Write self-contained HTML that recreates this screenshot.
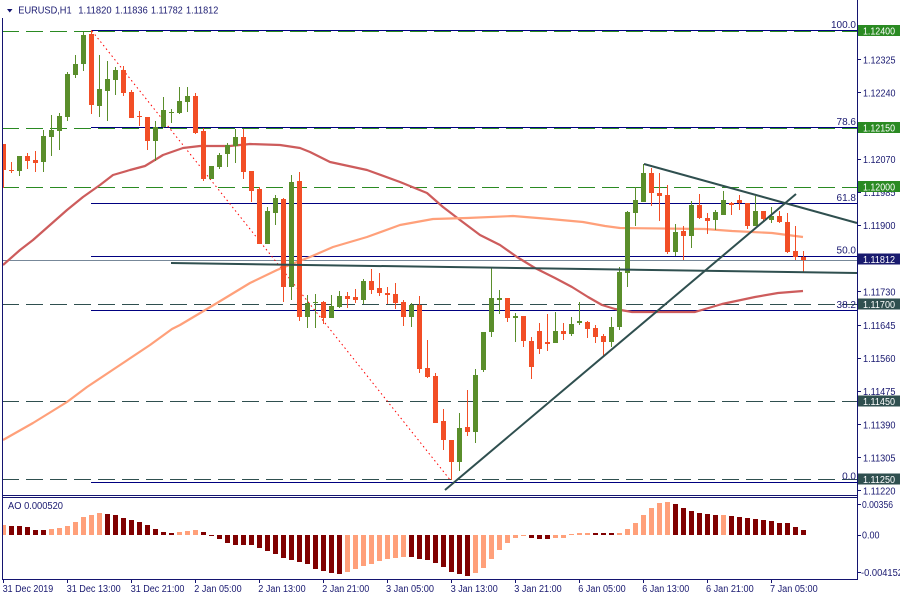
<!DOCTYPE html>
<html><head><meta charset="utf-8"><style>
html,body{margin:0;padding:0;background:#fff;width:900px;height:600px;overflow:hidden}
svg{display:block}
text{font-family:"Liberation Sans",sans-serif;font-size:10px;fill:#191970}
</style></head><body>
<svg width="900" height="600" viewBox="0 0 900 600" xmlns="http://www.w3.org/2000/svg">
<rect width="900" height="600" fill="#fff"/>
<g shape-rendering="crispEdges" fill="none">
<line x1="2" y1="31.5" x2="857" y2="31.5" stroke="#2a8a22" stroke-dasharray="17 7"/>
<line x1="2" y1="128.5" x2="857" y2="128.5" stroke="#2a8a22" stroke-dasharray="17 7"/>
<line x1="2" y1="187.5" x2="857" y2="187.5" stroke="#2a8a22" stroke-dasharray="17 7"/>
<line x1="2" y1="304.5" x2="857" y2="304.5" stroke="#2f4f4f" stroke-dasharray="17 7"/>
<line x1="2" y1="401.5" x2="857" y2="401.5" stroke="#2f4f4f" stroke-dasharray="17 7"/>
<line x1="2" y1="479.5" x2="857" y2="479.5" stroke="#2f4f4f" stroke-dasharray="17 7"/>
<line x1="91" y1="30.5" x2="857" y2="30.5" stroke="#000080"/>
<line x1="91" y1="127.5" x2="857" y2="127.5" stroke="#000080"/>
<line x1="91" y1="203.5" x2="857" y2="203.5" stroke="#000080"/>
<line x1="91" y1="256.5" x2="857" y2="256.5" stroke="#000080"/>
<line x1="91" y1="310.5" x2="857" y2="310.5" stroke="#000080"/>
<line x1="91" y1="482.5" x2="857" y2="482.5" stroke="#000080"/>
<line x1="2" y1="260.5" x2="857" y2="260.5" stroke="#778899"/>
</g>
<line x1="92" y1="31" x2="451" y2="481" stroke="#ff0000" stroke-width="1" stroke-dasharray="1.5 3"/>
<text x="856" y="28" text-anchor="end">100.0</text>
<text x="856" y="125" text-anchor="end">78.6</text>
<text x="856" y="201" text-anchor="end">61.8</text>
<text x="856" y="253.5" text-anchor="end">50.0</text>
<text x="856" y="308" text-anchor="end">38.2</text>
<text x="856" y="479.5" text-anchor="end">0.0</text>
<polyline fill="none" stroke="#cd5c5c" stroke-width="2.2" stroke-linejoin="round" points="3,265 20,250 33,240 50,225 67,210 83,197 100,185 113,175 130,170 145,166 163,155 183,148 200,146 230,146 250,144 280,145 300,148 310,152 330,162 367,170 400,182 427,193 443,207 460,220 480,235 500,245 517,257 535,268 555,278 572,287 588,297 602,305 615,309 632,312 695,312 722,304 755,297 778,293 803,291"/>
<polyline fill="none" stroke="#ffa07a" stroke-width="2.2" stroke-linejoin="round" points="3,440 33,423 67,402 87,387 117,367 150,345 172,329 180,325 217,303 250,283 277,270 297,262 310,257 333,247 367,237 400,225 433,219 467,218 513,216 550,219 583,222 605,226 620,228 705,229 732,231 772,233 803,237"/>
<g fill="#5a8e2b" shape-rendering="crispEdges">
<rect x="19" y="156" width="1" height="20"/><rect x="17" y="156" width="5" height="15"/>
<rect x="43" y="130" width="1" height="42"/><rect x="41" y="136" width="5" height="26"/>
<rect x="51" y="115" width="1" height="41"/><rect x="49" y="130" width="5" height="7"/>
<rect x="59" y="113" width="1" height="37"/><rect x="57" y="116" width="5" height="15"/>
<rect x="67" y="72" width="1" height="49"/><rect x="65" y="74" width="5" height="43"/>
<rect x="75" y="55" width="1" height="23"/><rect x="73" y="64" width="5" height="11"/>
<rect x="83" y="32" width="1" height="39"/><rect x="81" y="35" width="5" height="29"/>
<rect x="99" y="55" width="1" height="62"/><rect x="97" y="89" width="5" height="17"/>
<rect x="107" y="61" width="1" height="60"/><rect x="105" y="79" width="5" height="12"/>
<rect x="115" y="67" width="1" height="28"/><rect x="113" y="70" width="5" height="10"/>
<rect x="155" y="121" width="1" height="40"/><rect x="153" y="127" width="5" height="14"/>
<rect x="163" y="97" width="1" height="31"/><rect x="161" y="110" width="5" height="17"/>
<rect x="171" y="109" width="1" height="14"/><rect x="169" y="112" width="5" height="1"/>
<rect x="179" y="87" width="1" height="27"/><rect x="177" y="101" width="5" height="12"/>
<rect x="187" y="87" width="1" height="25"/><rect x="185" y="96" width="5" height="6"/>
<rect x="211" y="166" width="1" height="13"/><rect x="209" y="166" width="5" height="13"/>
<rect x="219" y="153" width="1" height="16"/><rect x="217" y="155" width="5" height="12"/>
<rect x="227" y="143" width="1" height="24"/><rect x="225" y="145" width="5" height="9"/>
<rect x="235" y="129" width="1" height="34"/><rect x="233" y="137" width="5" height="9"/>
<rect x="267" y="207" width="1" height="37"/><rect x="265" y="211" width="5" height="33"/>
<rect x="275" y="195" width="1" height="30"/><rect x="273" y="198" width="5" height="15"/>
<rect x="291" y="175" width="1" height="125"/><rect x="289" y="182" width="5" height="105"/>
<rect x="307" y="295" width="1" height="33"/><rect x="305" y="303" width="5" height="14"/>
<rect x="315" y="294" width="1" height="34"/><rect x="313" y="302" width="5" height="1"/>
<rect x="331" y="295" width="1" height="23"/><rect x="329" y="306" width="5" height="12"/>
<rect x="339" y="291" width="1" height="17"/><rect x="337" y="296" width="5" height="11"/>
<rect x="363" y="279" width="1" height="25"/><rect x="361" y="281" width="5" height="19"/>
<rect x="411" y="303" width="1" height="24"/><rect x="409" y="305" width="5" height="12"/>
<rect x="459" y="413" width="1" height="58"/><rect x="457" y="428" width="5" height="34"/>
<rect x="475" y="369" width="1" height="74"/><rect x="473" y="375" width="5" height="57"/>
<rect x="483" y="332" width="1" height="40"/><rect x="481" y="332" width="5" height="38"/>
<rect x="491" y="268" width="1" height="69"/><rect x="489" y="298" width="5" height="34"/>
<rect x="499" y="290" width="1" height="24"/><rect x="497" y="298" width="5" height="2"/>
<rect x="515" y="313" width="1" height="29"/><rect x="513" y="316" width="5" height="2"/>
<rect x="555" y="312" width="1" height="31"/><rect x="553" y="331" width="5" height="12"/>
<rect x="571" y="317" width="1" height="19"/><rect x="569" y="324" width="5" height="10"/>
<rect x="579" y="302" width="1" height="23"/><rect x="577" y="321" width="5" height="2"/>
<rect x="611" y="317" width="1" height="30"/><rect x="609" y="327" width="5" height="15"/>
<rect x="619" y="267" width="1" height="63"/><rect x="617" y="272" width="5" height="55"/>
<rect x="627" y="211" width="1" height="76"/><rect x="625" y="212" width="5" height="61"/>
<rect x="635" y="187" width="1" height="39"/><rect x="633" y="200" width="5" height="13"/>
<rect x="643" y="164" width="1" height="38"/><rect x="641" y="173" width="5" height="29"/>
<rect x="675" y="224" width="1" height="32"/><rect x="673" y="232" width="5" height="20"/>
<rect x="691" y="201" width="1" height="47"/><rect x="689" y="205" width="5" height="31"/>
<rect x="715" y="210" width="1" height="20"/><rect x="713" y="212" width="5" height="8"/>
<rect x="723" y="191" width="1" height="24"/><rect x="721" y="200" width="5" height="15"/>
<rect x="755" y="196" width="1" height="30"/><rect x="753" y="211" width="5" height="15"/>
<rect x="771" y="207" width="1" height="16"/><rect x="769" y="216" width="5" height="4"/>
</g>
<g fill="#f24e26" shape-rendering="crispEdges">
<rect x="3" y="144" width="1" height="44"/><rect x="3" y="144" width="3" height="26"/>
<rect x="11" y="162" width="1" height="11"/><rect x="9" y="170" width="5" height="1"/>
<rect x="27" y="153" width="1" height="16"/><rect x="25" y="156" width="5" height="5"/>
<rect x="35" y="151" width="1" height="21"/><rect x="33" y="160" width="5" height="3"/>
<rect x="91" y="30" width="1" height="84"/><rect x="89" y="34" width="5" height="71"/>
<rect x="123" y="66" width="1" height="30"/><rect x="121" y="70" width="5" height="23"/>
<rect x="131" y="90" width="1" height="28"/><rect x="129" y="92" width="5" height="26"/>
<rect x="139" y="111" width="1" height="15"/><rect x="137" y="116" width="5" height="1"/>
<rect x="147" y="117" width="1" height="33"/><rect x="145" y="117" width="5" height="24"/>
<rect x="195" y="93" width="1" height="41"/><rect x="193" y="96" width="5" height="37"/>
<rect x="203" y="128" width="1" height="53"/><rect x="201" y="131" width="5" height="48"/>
<rect x="243" y="129" width="1" height="50"/><rect x="241" y="137" width="5" height="35"/>
<rect x="251" y="171" width="1" height="31"/><rect x="249" y="171" width="5" height="20"/>
<rect x="259" y="187" width="1" height="57"/><rect x="257" y="189" width="5" height="55"/>
<rect x="283" y="198" width="1" height="104"/><rect x="281" y="199" width="5" height="88"/>
<rect x="299" y="172" width="1" height="149"/><rect x="297" y="181" width="5" height="136"/>
<rect x="323" y="301" width="1" height="23"/><rect x="321" y="302" width="5" height="16"/>
<rect x="347" y="292" width="1" height="16"/><rect x="345" y="296" width="5" height="3"/>
<rect x="355" y="289" width="1" height="14"/><rect x="353" y="297" width="5" height="3"/>
<rect x="371" y="269" width="1" height="25"/><rect x="369" y="281" width="5" height="9"/>
<rect x="379" y="273" width="1" height="23"/><rect x="377" y="288" width="5" height="5"/>
<rect x="387" y="287" width="1" height="17"/><rect x="385" y="293" width="5" height="2"/>
<rect x="395" y="283" width="1" height="26"/><rect x="393" y="294" width="5" height="9"/>
<rect x="403" y="300" width="1" height="26"/><rect x="401" y="302" width="5" height="15"/>
<rect x="419" y="296" width="1" height="77"/><rect x="417" y="305" width="5" height="64"/>
<rect x="427" y="340" width="1" height="38"/><rect x="425" y="368" width="5" height="9"/>
<rect x="435" y="373" width="1" height="50"/><rect x="433" y="376" width="5" height="47"/>
<rect x="443" y="409" width="1" height="41"/><rect x="441" y="421" width="5" height="19"/>
<rect x="451" y="440" width="1" height="40"/><rect x="449" y="440" width="5" height="22"/>
<rect x="467" y="390" width="1" height="46"/><rect x="465" y="427" width="5" height="5"/>
<rect x="507" y="298" width="1" height="24"/><rect x="505" y="298" width="5" height="20"/>
<rect x="523" y="316" width="1" height="31"/><rect x="521" y="316" width="5" height="25"/>
<rect x="531" y="337" width="1" height="42"/><rect x="529" y="341" width="5" height="26"/>
<rect x="539" y="323" width="1" height="31"/><rect x="537" y="331" width="5" height="18"/>
<rect x="547" y="314" width="1" height="37"/><rect x="545" y="342" width="5" height="2"/>
<rect x="563" y="323" width="1" height="17"/><rect x="561" y="331" width="5" height="3"/>
<rect x="587" y="321" width="1" height="17"/><rect x="585" y="322" width="5" height="7"/>
<rect x="595" y="325" width="1" height="18"/><rect x="593" y="328" width="5" height="9"/>
<rect x="603" y="334" width="1" height="23"/><rect x="601" y="336" width="5" height="6"/>
<rect x="651" y="168" width="1" height="38"/><rect x="649" y="173" width="5" height="20"/>
<rect x="659" y="173" width="1" height="48"/><rect x="657" y="193" width="5" height="3"/>
<rect x="667" y="185" width="1" height="69"/><rect x="665" y="195" width="5" height="57"/>
<rect x="683" y="226" width="1" height="34"/><rect x="681" y="231" width="5" height="5"/>
<rect x="699" y="194" width="1" height="25"/><rect x="697" y="205" width="5" height="13"/>
<rect x="707" y="213" width="1" height="21"/><rect x="705" y="218" width="5" height="3"/>
<rect x="731" y="202" width="1" height="13"/><rect x="729" y="203" width="5" height="2"/>
<rect x="739" y="195" width="1" height="15"/><rect x="737" y="200" width="5" height="3"/>
<rect x="747" y="203" width="1" height="26"/><rect x="745" y="203" width="5" height="23"/>
<rect x="763" y="211" width="1" height="10"/><rect x="761" y="211" width="5" height="8"/>
<rect x="779" y="211" width="1" height="12"/><rect x="777" y="216" width="5" height="6"/>
<rect x="787" y="213" width="1" height="40"/><rect x="785" y="222" width="5" height="30"/>
<rect x="795" y="226" width="1" height="34"/><rect x="793" y="251" width="5" height="6"/>
<rect x="803" y="251" width="1" height="22"/><rect x="801" y="257" width="5" height="3"/>
</g>
<g stroke="#2f4f4f" stroke-width="2" fill="none">
<line x1="445" y1="490" x2="796" y2="194"/>
<line x1="644" y1="164" x2="857" y2="223"/>
<line x1="171" y1="263" x2="857" y2="273"/>
</g>
<g fill="#ffa07a" shape-rendering="crispEdges">
<rect x="3" y="525" width="3" height="10"/><rect x="49" y="529" width="5" height="6"/><rect x="57" y="528" width="5" height="7"/><rect x="65" y="526" width="5" height="9"/><rect x="73" y="522" width="5" height="13"/><rect x="81" y="517" width="5" height="18"/><rect x="89" y="515" width="5" height="20"/><rect x="97" y="513" width="5" height="22"/>
<rect x="177" y="532" width="5" height="3"/><rect x="185" y="531" width="5" height="4"/><rect x="193" y="530" width="5" height="5"/>
<rect x="345" y="535" width="5" height="37"/><rect x="353" y="535" width="5" height="34"/><rect x="361" y="535" width="5" height="31"/><rect x="369" y="535" width="5" height="29"/><rect x="377" y="535" width="5" height="26"/><rect x="385" y="535" width="5" height="24"/><rect x="393" y="535" width="5" height="23"/><rect x="401" y="535" width="5" height="22"/>
<rect x="473" y="535" width="5" height="38"/><rect x="481" y="535" width="5" height="33"/><rect x="489" y="535" width="5" height="24"/><rect x="497" y="535" width="5" height="15"/><rect x="505" y="535" width="5" height="8"/><rect x="513" y="535" width="5" height="3"/><rect x="521" y="535" width="5" height="1"/>
<rect x="553" y="535" width="5" height="3"/><rect x="561" y="535" width="5" height="3"/><rect x="569" y="534" width="5" height="1"/><rect x="577" y="533" width="5" height="2"/><rect x="585" y="533" width="5" height="2"/>
<rect x="617" y="533" width="5" height="2"/><rect x="625" y="529" width="5" height="6"/><rect x="633" y="523" width="5" height="12"/><rect x="641" y="515" width="5" height="20"/><rect x="649" y="508" width="5" height="27"/><rect x="657" y="503" width="5" height="32"/><rect x="665" y="502" width="5" height="33"/>
<rect x="721" y="515" width="5" height="20"/>
</g>
<g fill="#800000" shape-rendering="crispEdges">
<rect x="9" y="526" width="5" height="9"/><rect x="17" y="526" width="5" height="9"/><rect x="25" y="527" width="5" height="8"/><rect x="33" y="530" width="5" height="5"/><rect x="41" y="530" width="5" height="5"/>
<rect x="105" y="514" width="5" height="21"/><rect x="113" y="515" width="5" height="20"/><rect x="121" y="518" width="5" height="17"/><rect x="129" y="520" width="5" height="15"/><rect x="137" y="522" width="5" height="13"/><rect x="145" y="525" width="5" height="10"/><rect x="153" y="529" width="5" height="6"/><rect x="161" y="532" width="5" height="3"/><rect x="169" y="533" width="5" height="2"/>
<rect x="201" y="532" width="5" height="3"/><rect x="209" y="535" width="5" height="1"/><rect x="217" y="535" width="5" height="4"/><rect x="225" y="535" width="5" height="8"/><rect x="233" y="535" width="5" height="10"/><rect x="241" y="535" width="5" height="10"/><rect x="249" y="535" width="5" height="10"/><rect x="257" y="535" width="5" height="13"/><rect x="265" y="535" width="5" height="16"/><rect x="273" y="535" width="5" height="19"/><rect x="281" y="535" width="5" height="23"/><rect x="289" y="535" width="5" height="25"/><rect x="297" y="535" width="5" height="27"/><rect x="305" y="535" width="5" height="29"/><rect x="313" y="535" width="5" height="34"/><rect x="321" y="535" width="5" height="36"/><rect x="329" y="535" width="5" height="38"/><rect x="337" y="535" width="5" height="39"/>
<rect x="409" y="535" width="5" height="22"/><rect x="417" y="535" width="5" height="24"/><rect x="425" y="535" width="5" height="25"/><rect x="433" y="535" width="5" height="28"/><rect x="441" y="535" width="5" height="32"/><rect x="449" y="535" width="5" height="37"/><rect x="457" y="535" width="5" height="39"/><rect x="465" y="535" width="5" height="41"/>
<rect x="529" y="535" width="5" height="3"/><rect x="537" y="535" width="5" height="4"/><rect x="545" y="535" width="5" height="4"/>
<rect x="593" y="533" width="5" height="2"/><rect x="601" y="533" width="5" height="2"/><rect x="609" y="533" width="5" height="2"/>
<rect x="673" y="504" width="5" height="31"/><rect x="681" y="508" width="5" height="27"/><rect x="689" y="511" width="5" height="24"/><rect x="697" y="513" width="5" height="22"/><rect x="705" y="514" width="5" height="21"/><rect x="713" y="515" width="5" height="20"/>
<rect x="729" y="516" width="5" height="19"/><rect x="737" y="517" width="5" height="18"/><rect x="745" y="518" width="5" height="17"/><rect x="753" y="519" width="5" height="16"/><rect x="761" y="520" width="5" height="15"/><rect x="769" y="521" width="5" height="14"/><rect x="777" y="523" width="5" height="12"/><rect x="785" y="523" width="5" height="12"/><rect x="793" y="527" width="5" height="8"/><rect x="801" y="530" width="5" height="5"/>
</g>
<g stroke="#141470" fill="none" shape-rendering="crispEdges">
<line x1="857.5" y1="0" x2="857.5" y2="580"/>
<line x1="2.5" y1="18" x2="2.5" y2="580"/>
<line x1="2" y1="495.5" x2="858" y2="495.5"/>
<line x1="2" y1="497.5" x2="858" y2="497.5"/>
<line x1="2" y1="579.5" x2="858" y2="579.5"/>
<path d="M857 59.5h4M857 92.5h4M857 159.5h4M857 192.5h4M857 225.5h4M857 291.5h4M857 325.5h4M857 358.5h4M857 391.5h4M857 424.5h4M857 457.5h4M857 490.5h4M857 504.5h4M857 535.5h4M857 572.5h4"/>
<path d="M3.5 580v3M67.5 580v3M131.5 580v3M195.5 580v3M259.5 580v3M323.5 580v3M387.5 580v3M451.5 580v3M515.5 580v3M579.5 580v3M643.5 580v3M707.5 580v3M771.5 580v3"/>
</g>
<polygon points="7,9 12.5,9 9.75,12.5" fill="#141470"/>
<text x="18.3" y="13.5" textLength="53.3" lengthAdjust="spacingAndGlyphs">EURUSD,H1</text>
<text x="78.3" y="13.5" textLength="33.3" lengthAdjust="spacingAndGlyphs">1.11820</text>
<text x="115" y="13.5" textLength="32.7" lengthAdjust="spacingAndGlyphs">1.11836</text>
<text x="151" y="13.5" textLength="31.7" lengthAdjust="spacingAndGlyphs">1.11782</text>
<text x="186" y="13.5" textLength="32.3" lengthAdjust="spacingAndGlyphs">1.11812</text>
<g>
<text x="863" y="63.5" textLength="32.5" lengthAdjust="spacingAndGlyphs">1.12325</text>
<text x="863" y="96.5" textLength="32.5" lengthAdjust="spacingAndGlyphs">1.12240</text>
<text x="863" y="163" textLength="32.5" lengthAdjust="spacingAndGlyphs">1.12070</text>
<text x="863" y="196" textLength="32.5" lengthAdjust="spacingAndGlyphs">1.11985</text>
<text x="863" y="229" textLength="32.5" lengthAdjust="spacingAndGlyphs">1.11900</text>
<text x="863" y="295.5" textLength="32.5" lengthAdjust="spacingAndGlyphs">1.11730</text>
<text x="863" y="329" textLength="32.5" lengthAdjust="spacingAndGlyphs">1.11645</text>
<text x="863" y="362" textLength="32.5" lengthAdjust="spacingAndGlyphs">1.11560</text>
<text x="863" y="395" textLength="32.5" lengthAdjust="spacingAndGlyphs">1.11475</text>
<text x="863" y="428.5" textLength="32.5" lengthAdjust="spacingAndGlyphs">1.11390</text>
<text x="863" y="461.5" textLength="32.5" lengthAdjust="spacingAndGlyphs">1.11305</text>
<text x="863" y="494.5" textLength="32.5" lengthAdjust="spacingAndGlyphs">1.11220</text>
</g>
<g shape-rendering="crispEdges">
<rect x="858" y="25" width="42" height="11" fill="#2a8a22"/>
<rect x="858" y="122" width="42" height="11" fill="#2a8a22"/>
<rect x="858" y="181" width="42" height="11" fill="#2a8a22"/>
<rect x="858" y="253.5" width="42" height="11" fill="#191a6e"/>
<rect x="858" y="298.5" width="42" height="11" fill="#2f4f4f"/>
<rect x="858" y="395.5" width="42" height="11" fill="#2f4f4f"/>
<rect x="858" y="473.5" width="42" height="11" fill="#2f4f4f"/>
</g>
<g style="fill:#fff">
<text x="863" y="34.5" textLength="32" lengthAdjust="spacingAndGlyphs" style="fill:#fff">1.12400</text>
<text x="863" y="131.5" textLength="32" lengthAdjust="spacingAndGlyphs" style="fill:#fff">1.12150</text>
<text x="863" y="190.5" textLength="32" lengthAdjust="spacingAndGlyphs" style="fill:#fff">1.12000</text>
<text x="863" y="263" textLength="32" lengthAdjust="spacingAndGlyphs" style="fill:#fff">1.11812</text>
<text x="863" y="308" textLength="32" lengthAdjust="spacingAndGlyphs" style="fill:#fff">1.11700</text>
<text x="863" y="405" textLength="32" lengthAdjust="spacingAndGlyphs" style="fill:#fff">1.11450</text>
<text x="863" y="483" textLength="32" lengthAdjust="spacingAndGlyphs" style="fill:#fff">1.11250</text>
</g>
<text x="8" y="509" textLength="55" lengthAdjust="spacingAndGlyphs">AO 0.000520</text>
<text x="862" y="508" textLength="31" lengthAdjust="spacingAndGlyphs">0.00356</text>
<text x="862" y="538.5" textLength="17.5" lengthAdjust="spacingAndGlyphs">0.00</text>
<text x="861" y="576" textLength="42" lengthAdjust="spacingAndGlyphs">-0.004152</text>
<g>
<text x="2.7" y="592" textLength="50.5" lengthAdjust="spacingAndGlyphs">31 Dec 2019</text>
<text x="66.7" y="592" textLength="54" lengthAdjust="spacingAndGlyphs">31 Dec 13:00</text>
<text x="130.7" y="592" textLength="53.7" lengthAdjust="spacingAndGlyphs">31 Dec 21:00</text>
<text x="194.3" y="592" textLength="47.3" lengthAdjust="spacingAndGlyphs">2 Jan 05:00</text>
<text x="258.3" y="592" textLength="47.3" lengthAdjust="spacingAndGlyphs">2 Jan 13:00</text>
<text x="322.3" y="592" textLength="47" lengthAdjust="spacingAndGlyphs">2 Jan 21:00</text>
<text x="386" y="592" textLength="48" lengthAdjust="spacingAndGlyphs">3 Jan 05:00</text>
<text x="450.7" y="592" textLength="47" lengthAdjust="spacingAndGlyphs">3 Jan 13:00</text>
<text x="514.3" y="592" textLength="47.4" lengthAdjust="spacingAndGlyphs">3 Jan 21:00</text>
<text x="578.3" y="592" textLength="47.4" lengthAdjust="spacingAndGlyphs">6 Jan 05:00</text>
<text x="642.3" y="592" textLength="47" lengthAdjust="spacingAndGlyphs">6 Jan 13:00</text>
<text x="706" y="592" textLength="47.7" lengthAdjust="spacingAndGlyphs">6 Jan 21:00</text>
<text x="770" y="592" textLength="47.7" lengthAdjust="spacingAndGlyphs">7 Jan 05:00</text>
</g>
</svg>
</body></html>
